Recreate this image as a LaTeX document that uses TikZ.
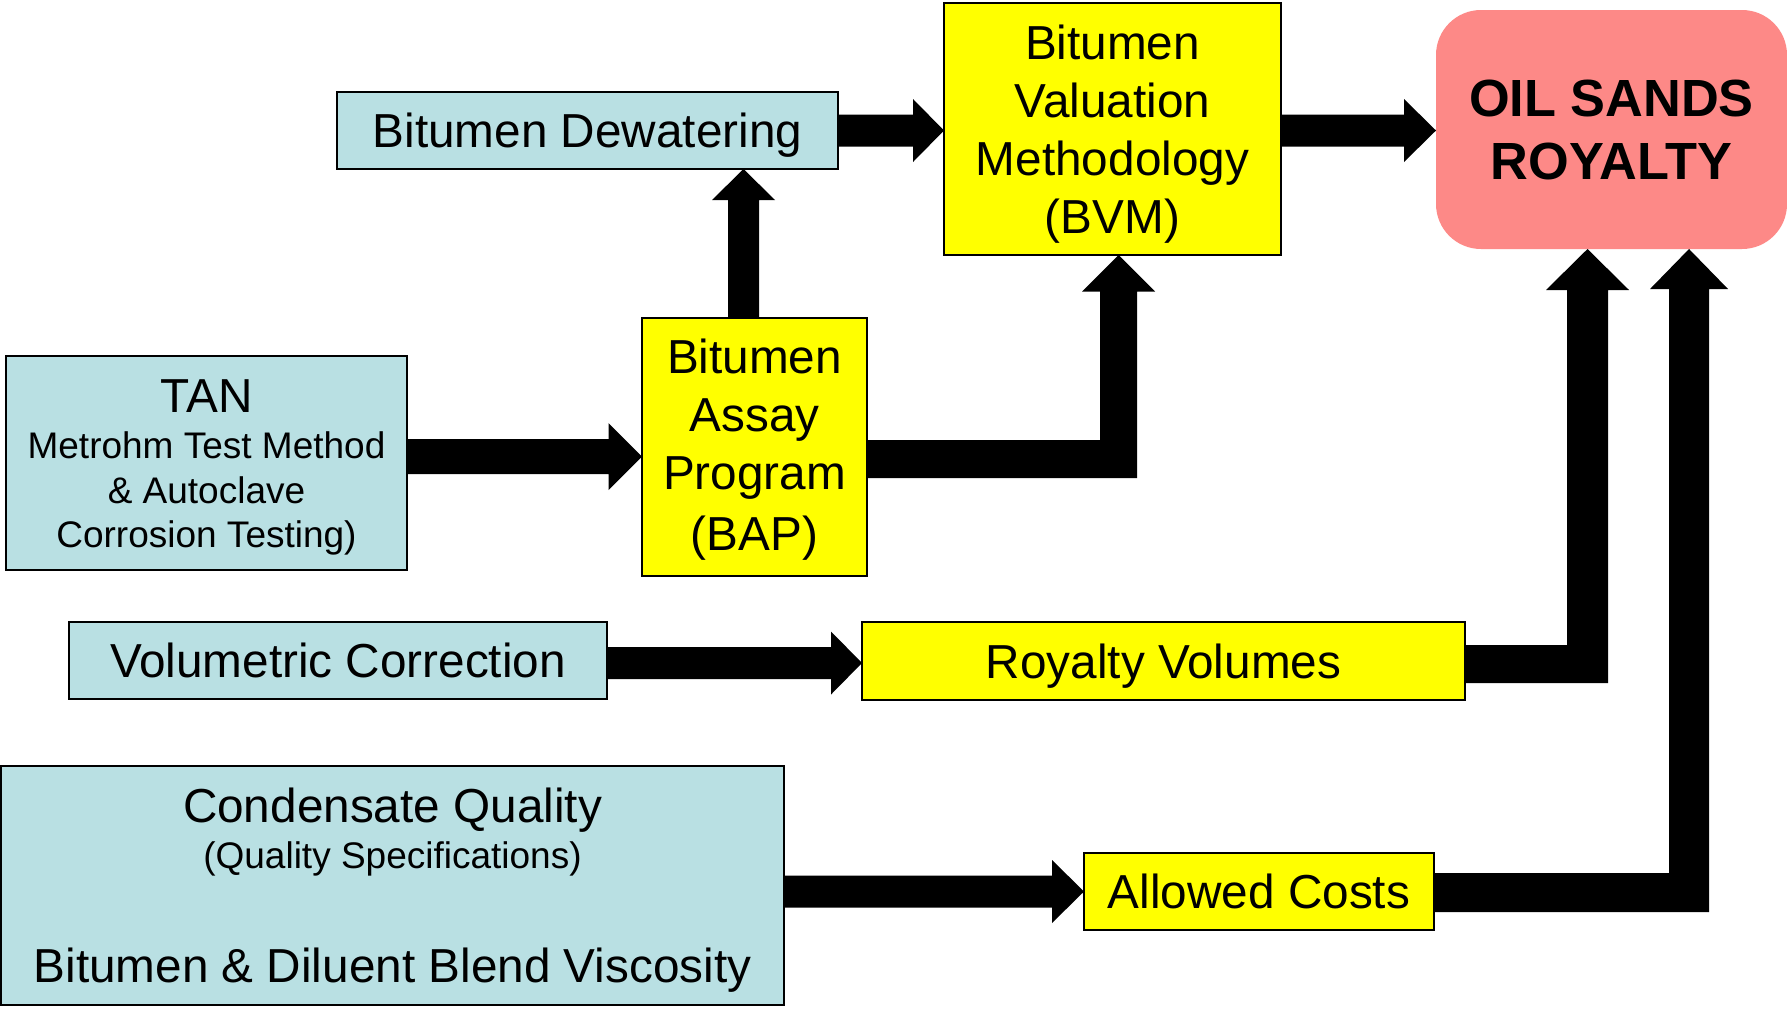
\documentclass[tikz,border=0pt]{standalone}
\usepackage{fontspec}
\setmainfont{Liberation Sans}
\usetikzlibrary{calc}
\definecolor{lblue}{RGB}{185,224,227}
\definecolor{yel}{RGB}{255,255,0}
\definecolor{pinkbox}{RGB}{253,137,135}
\newcommand{\bigf}{\fontsize{47.7}{58}\selectfont}
\newcommand{\smallf}{\fontsize{37}{44.5}\selectfont}
% horizontal block arrow: start (x), tip (x,y), shaft half, head half, head length
\newcommand\harrow[5]{%
 \fill[black] let \p1=(#1), \p2=(#2) in
   (\x1,\y2+#3) -- (\x2-#5,\y2+#3) -- (\x2-#5,\y2+#4) -- (\p2) -- (\x2-#5,\y2-#4) -- (\x2-#5,\y2-#3) -- (\x1,\y2-#3) -- cycle;}
% vertical (upward) block arrow: start (y), tip (x,y), shaft half, head half, head length
\newcommand\varrow[5]{%
 \fill[black] let \p1=(#1), \p2=(#2) in
   (\x2-#3,\y1) -- (\x2-#3,\y2-#5) -- (\x2-#4,\y2-#5) -- (\p2) -- (\x2+#4,\y2-#5) -- (\x2+#3,\y2-#5) -- (\x2+#3,\y1) -- cycle;}
% elbow block arrow: start (x0,yc), tip (xc,yt), horiz half, vert half, head half, head length
\newcommand\elbowarrow[6]{%
 \fill[black] let \p1=(#1), \p2=(#2) in
   (\x1,\y1+#3) -- (\x2-#4,\y1+#3) -- (\x2-#4,\y2-#6) -- (\x2-#5,\y2-#6) -- (\p2) -- (\x2+#5,\y2-#6) -- (\x2+#4,\y2-#6) -- (\x2+#4,\y1-#3) -- (\x1,\y1-#3) -- cycle;}
\begin{document}
\begin{tikzpicture}[x=1pt,y=-1pt,
  boxbase/.style={rectangle, inner sep=0pt, outer sep=0pt, align=center},
  bluebox/.style={boxbase, draw=black, line width=1.8pt, fill=lblue},
  yelbox/.style={boxbase, draw=black, line width=1.8pt, fill=yel},
  oneline/.style={font=\bigf, text height=34pt, text depth=0pt}]
\useasboundingbox (0,0) rectangle (1787,1010);
\fill[white] (0,0) rectangle (1787,1010);

\node[bluebox, oneline, minimum width=501pt, minimum height=77pt] (dew) at (587.5,130.5) {Bitumen Dewatering};
\node[yelbox, font=\bigf, text height=34pt, text depth=174pt, minimum width=337pt, minimum height=252pt] (bvm) at (1112.5,129)
  {\begin{tabular}[t]{@{}c@{}}Bitumen\\Valuation\\Methodology\\(BVM)\end{tabular}};
\node[boxbase, fill=pinkbox, rounded corners=45pt, font=\fontsize{52.3}{63}\selectfont\bfseries, text height=37pt, text depth=63pt, minimum width=351pt, minimum height=239pt] (roy) at (1611.5,129.5)
  {\begin{tabular}[t]{@{}c@{}}OIL SANDS\\ROYALTY\end{tabular}};
\node[bluebox, font=\smallf, text height=34pt, text depth=135.5pt, minimum width=401pt, minimum height=214pt] (tan) at (206.5,463)
  {\begin{tabular}[t]{@{}c@{}}{\bigf TAN}\\[2pt]Metrohm Test Method\\\& Autoclave\\Corrosion Testing)\end{tabular}};
\node[yelbox, font=\bigf, text height=34pt, text depth=182pt, minimum width=225pt, minimum height=258pt] (bap) at (754.5,447)
  {\begin{tabular}[t]{@{}c@{}}Bitumen\\Assay\\Program\\[3pt](BAP)\end{tabular}};
\node[bluebox, oneline, minimum width=538pt, minimum height=77pt] (vol) at (338,660.5) {Volumetric Correction};
\node[yelbox, oneline, minimum width=603pt, minimum height=78pt] (rv) at (1163.5,661) {Royalty Volumes};
\node[yelbox, oneline, minimum width=350pt, minimum height=77pt] (ac) at (1259,891.5) {Allowed Costs};
\node[bluebox, font=\fontsize{47.7}{46.3}\selectfont, text height=34pt, text depth=160pt, minimum width=783pt, minimum height=239pt] (cond) at (392.5,885.5)
  {\begin{tabular}[t]{@{}c@{}}Condensate Quality\\{\smallf (Quality Specifications)}\\[65.2pt]Bitumen \& Diluent Blend Viscosity\end{tabular}};

\coordinate (cC) at (743.5,0);
\coordinate (cE) at (1118.5,0);
\coordinate (cH) at (1587.5,0);
\coordinate (cI) at (1689,0);

\harrow{dew.east}{bvm.west |- dew.east}{16pt}{31.5pt}{31pt}
\harrow{bvm.east}{roy.west |- dew.east}{16pt}{31.5pt}{32pt}
\varrow{bap.north}{cC |- dew.south}{15.5pt}{31.5pt}{31pt}
\harrow{tan.east}{[yshift=-9.5pt]bap.west}{17.5pt}{33.5pt}{33.5pt}
\elbowarrow{[yshift=-12pt]bap.east}{cE |- bvm.south}{19pt}{18.5pt}{36.5pt}{36.5pt}
\harrow{vol.east}{[yshift=-2pt]rv.west}{16pt}{31.5pt}{31pt}
\harrow{cond.east}{ac.west}{16pt}{31.5pt}{32pt}
\elbowarrow{[yshift=-3pt]rv.east}{cH |- roy.south}{19pt}{20.5pt}{41.5pt}{41pt}
\elbowarrow{[yshift=-1pt]ac.east}{cI |- roy.south}{19.5pt}{20pt}{39pt}{40pt}
\end{tikzpicture}
\end{document}
